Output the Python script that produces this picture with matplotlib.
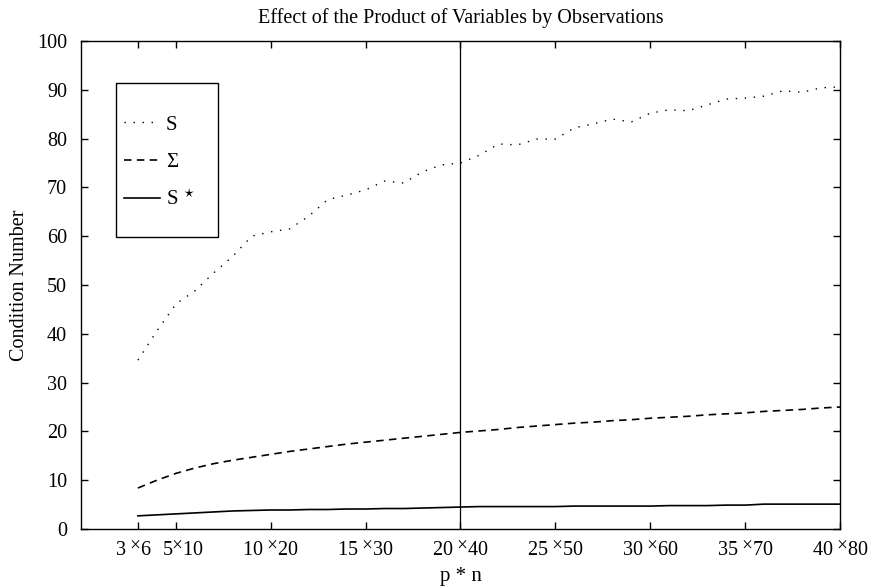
import matplotlib
matplotlib.use("Agg")
import matplotlib.pyplot as plt
from matplotlib.patches import Rectangle
from matplotlib.transforms import ScaledTranslation

# p values (n = 2p)
p_vals = list(range(3, 41))

# condition number of S (dotted)
cond_s = [34.6, 40.6, 46.1, 48.8, 52.5, 55.9, 60.0, 60.9, 61.5, 64.1,
          67.5, 68.4, 69.5, 71.3, 70.9, 73.2, 74.6, 75.0, 76.6, 78.9,
          78.7, 79.9, 79.9, 82.2, 83.0, 84.0, 83.4, 85.2, 85.9, 85.7,
          86.9, 88.1, 88.3, 88.7, 89.8, 89.5, 90.4, 90.6]

# condition number of Sigma (dashed)
cond_sigma = [8.4, 10.0, 11.4, 12.5, 13.4, 14.1, 14.7, 15.3, 15.9, 16.4,
              16.9, 17.4, 17.8, 18.2, 18.6, 19.0, 19.4, 19.8, 20.1, 20.4,
              20.8, 21.1, 21.4, 21.7, 21.9, 22.2, 22.4, 22.7, 22.9, 23.1,
              23.4, 23.6, 23.8, 24.1, 24.3, 24.5, 24.8, 25.0]

# condition number of S* (solid)
cond_sstar = [2.7, 2.9, 3.1, 3.3, 3.5, 3.7, 3.8, 3.9, 3.9, 4.0,
              4.0, 4.1, 4.1, 4.2, 4.2, 4.3, 4.4, 4.5, 4.6, 4.6,
              4.6, 4.6, 4.6, 4.7, 4.7, 4.7, 4.7, 4.7, 4.8, 4.8,
              4.8, 4.9, 4.9, 5.1, 5.1, 5.1, 5.1, 5.1]

tick_pos = [3, 5, 10, 15, 20, 25, 30, 35, 40]
tick_p = ["3", "5", "10", "15", "20", "25", "30", "35", "40"]
tick_n = ["6", "10", "20", "30", "40", "50", "60", "70", "80"]
marker_p = 20

plt.rcParams["font.family"] = ["Liberation Serif", "DejaVu Serif"]
plt.rcParams["mathtext.fontset"] = "stix"

fig = plt.figure(figsize=(8.71, 5.88), dpi=100)
ax = fig.add_axes([0.093, 0.1003, 0.8714, 0.83])

ax.plot(p_vals, cond_s, color="black", linestyle=(0, (1, 5.5)), linewidth=1.0, label="S")
ax.plot(p_vals, cond_sigma, color="black", linestyle=(0, (4.5, 3.2)), linewidth=1.2, label="\u03a3")
ax.plot(p_vals, cond_sstar, color="black", linestyle="-", linewidth=1.2, label="S$^{\\ \\star}$")
ax.axvline(marker_p, color="black", linewidth=0.9)

ax.set_xlim(0, 40)
ax.set_ylim(0, 100)
ax.set_xticks(tick_pos)
sep = {"5": "$^{\\times}$"}
ax.set_xticklabels([a + sep.get(a, " $^{\\times}$") + b for a, b in zip(tick_p, tick_n)])
ax.set_yticks(range(0, 101, 10))
ax.tick_params(direction="in", top=True, right=True, length=5, width=1,
               labelsize=14.5)
ax.tick_params(axis="x", pad=9)
ax.tick_params(axis="y", pad=10)
for sp in ax.spines.values():
    sp.set_linewidth(1.0)

# the first two labels sit close together; nudge them apart
xlabels = ax.get_xticklabels()
for lab, dx in ((xlabels[0], -0.05), (xlabels[1], 0.07)):
    lab.set_transform(lab.get_transform() + ScaledTranslation(dx, 0, fig.dpi_scale_trans))

ax.set_title("Effect of the Product of Variables by Observations", fontsize=14.5, pad=13)
ax.set_xlabel("p * n", fontsize=15, labelpad=4)
ax.set_ylabel("Condition Number", fontsize=14.5, labelpad=6)

# legend box (drawn separately so it can be taller than wide)
ax.add_patch(Rectangle((0.0461, 0.598), 0.1344, 0.316, transform=ax.transAxes,
                       fill=False, edgecolor="black", linewidth=1.0, zorder=5))
leg = ax.legend(loc="upper left", bbox_to_anchor=(0.0567, 0.848), fontsize=15,
                handlelength=1.75, handletextpad=0.25, labelspacing=0.85,
                borderpad=0, borderaxespad=0, frameon=False)

fig.savefig("out.png", dpi=100)
